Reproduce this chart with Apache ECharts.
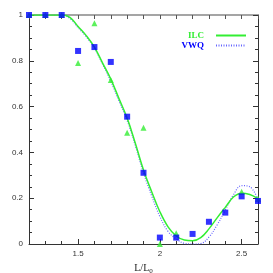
<!DOCTYPE html>
<html><head><meta charset="utf-8">
<script src="https://cdn.jsdelivr.net/npm/echarts@6/dist/echarts.min.js"></script>
<style>html,body{margin:0;padding:0;background:#fff}#c{width:273px;height:273px}</style>
</head><body><div id="c"></div>
<script>
// ----- data -----
const xTickLabels = [1.5, 2, 2.5];
const xMinorTicks = [1.2,1.3,1.4,1.5,1.6,1.7,1.8,1.9,2.0,2.1,2.2,2.3,2.4,2.5,2.6];
const vwqX = [1.2,1.3,1.4,1.5,1.6,1.7,1.8,1.9,2.0,2.1,2.2,2.3,2.4,2.5,2.6];
const vwqY = [1,1,1,0.843,0.86,0.795,0.556,0.311,0.028,0.028,0.044,0.097,0.137,0.208,0.188];
const ilcX = [1.2,1.3,1.4,1.5,1.6,1.7,1.8,1.9,2.0,2.1,2.5,2.6];
const ilcY = [1,1,1,0.79,0.964,0.716,0.486,0.508,0.0,0.047,0.228,0.198];
const curveX = [1.2,1.3,1.4,1.45,1.5,1.55,1.6,1.65,1.7,1.75,1.8,1.85,1.9,1.95,2.0,2.05,2.1,2.15,2.2,2.25,2.3,2.35,2.4,2.45,2.5,2.55,2.6];
const ilcCurve = [1,1,1,0.99,0.95,0.91,0.86,0.79,0.72,0.635,0.55,0.44,0.323,0.228,0.141,0.075,0.035,0.017,0.014,0.028,0.066,0.114,0.16,0.205,0.222,0.216,0.198];
const vwqCurve = [1,1,1,0.985,0.945,0.905,0.855,0.785,0.71,0.625,0.54,0.43,0.31,0.21,0.12,0.055,0.022,0.003,0,0.002,0.03,0.083,0.148,0.215,0.255,0.25,0.192];

const zip = (a,b) => a.map((v,i)=>[v,b[i]]);
const GREEN = '#33ee33', BLUE = '#0000ff', BLUE_L = '#6666ff';
const tickFont = {fontFamily:'Liberation Sans', fontSize:8, color:'#333'};

const chart = echarts.init(document.getElementById('c'));
const xBase = {type:'value', min:1.2, max:2.6, gridIndex:0};
const yBase = {type:'value', min:0, max:1, gridIndex:0};
chart.setOption({
  animation:false,
  grid:{left:29, right:15, top:15, bottom:29, containLabel:false, outerBoundsMode:'none'},
  legend:{
    right:21, top:26, orient:'vertical', align:'right', itemGap:1,
    itemWidth:30, itemHeight:8,
    itemStyle:{color:'transparent', borderWidth:0, opacity:0},
    data:[
      {name:'ILC', textStyle:{color:GREEN}},
      {name:'VWQ', textStyle:{color:BLUE}}
    ],
    textStyle:{fontFamily:'Liberation Serif', fontSize:9, fontWeight:'bold', padding:[0,7,0,0]}
  },
  xAxis:[
    Object.assign({}, xBase, {position:'bottom',
      name:'{a|L/L}{s|0}', nameLocation:'middle', nameGap:17,
      nameTextStyle:{rich:{a:{fontFamily:'Liberation Serif', fontSize:10, color:'#222'}, s:{fontFamily:'Liberation Serif', fontSize:7, color:'#222', verticalAlign:'bottom', padding:[6,0,0,0]}}},
      axisLine:{lineStyle:{color:'#333', width:1}},
      axisTick:{inside:true, length:5, customValues:xTickLabels, lineStyle:{color:'#333'}},
      axisLabel:Object.assign({customValues:xTickLabels, margin:6, formatter:v=>String(v)}, tickFont),
      splitLine:{show:false}}),
    Object.assign({}, xBase, {position:'bottom',
      axisLine:{show:false}, axisLabel:{show:false}, splitLine:{show:false},
      axisTick:{inside:true, length:3, customValues:xMinorTicks, lineStyle:{color:'#333'}}}),
    Object.assign({}, xBase, {position:'top',
      axisLine:{lineStyle:{color:'#888', width:1.5}}, axisLabel:{show:false}, splitLine:{show:false},
      axisTick:{inside:true, length:4, customValues:xMinorTicks, lineStyle:{color:'#555'}}})
  ],
  yAxis:[
    Object.assign({}, yBase, {position:'left', interval:0.2,
      name:'1 \u2212 C.L.', nameLocation:'middle', nameGap:20,
      nameTextStyle:{fontFamily:'Liberation Serif', fontSize:10, color:'#222'},
      axisLine:{lineStyle:{color:'#333', width:1}},
      axisTick:{inside:true, length:5, lineStyle:{color:'#333'}},
      minorTick:{show:true, splitNumber:4, length:3, lineStyle:{color:'#333'}},
      axisLabel:Object.assign({margin:6, formatter:v=>String(Math.round(v*10)/10)}, tickFont),
      splitLine:{show:false}}),
    Object.assign({}, yBase, {position:'right', interval:0.2,
      axisLine:{lineStyle:{color:'#333', width:1}}, axisLabel:{show:false}, splitLine:{show:false},
      axisTick:{inside:true, length:5, lineStyle:{color:'#333'}},
      minorTick:{show:true, splitNumber:4, length:3, lineStyle:{color:'#333'}}})
  ],
  series:[
    {name:'VWQ', type:'line', data:zip(curveX, vwqCurve), smooth:0.4, symbol:'none',
     lineStyle:{color:BLUE_L, width:1.2, type:[1,1.5]}, itemStyle:{color:BLUE_L}, z:2},
    {name:'ILC', type:'line', data:zip(curveX, ilcCurve), smooth:0.4, symbol:'none',
     lineStyle:{color:GREEN, width:1.5}, itemStyle:{color:GREEN}, z:3},
    {name:'ILC pts', type:'scatter', data:zip(ilcX, ilcY), symbol:'triangle', symbolSize:6,
     itemStyle:{color:GREEN}, z:4},
    {name:'VWQ pts', type:'scatter', data:zip(vwqX, vwqY), symbol:'rect', symbolSize:6,
     itemStyle:{color:BLUE}, z:5}
  ]
});
</script></body></html>
